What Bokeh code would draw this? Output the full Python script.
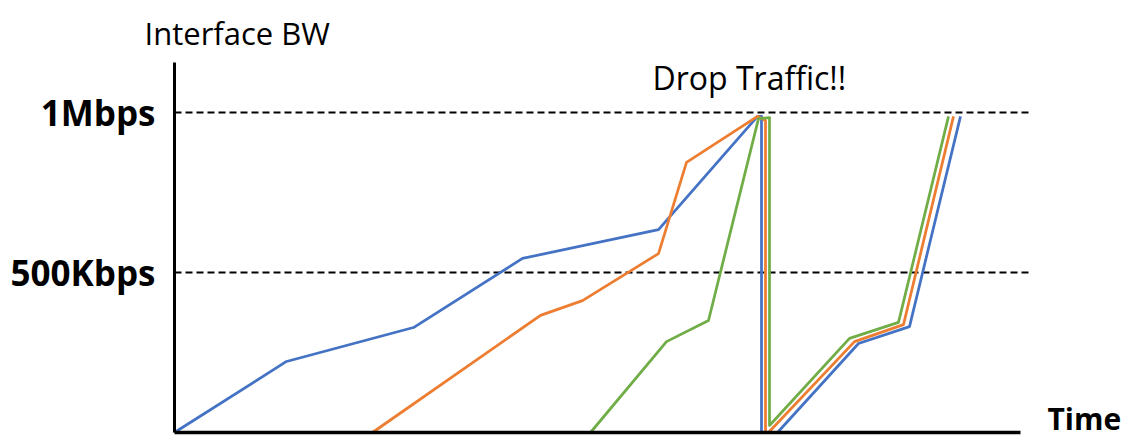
from bokeh.plotting import figure
from bokeh.models import Range1d
from bokeh.core.properties import value
from bokeh.embed import file_html
from bokeh.resources import INLINE

# ---- data (x: time units, y: Kbps) ----
blue_t = [0, 112, 239, 348, 484, 583, 587, 587, 603, 684, 735, 786]
blue_bw = [0, 222, 328, 544, 634, 988, 988, 0, 0, 278, 331, 988]

orange_t = [198, 366, 408, 484, 512, 583, 591, 591, 594, 680, 729, 779]
orange_bw = [0, 366, 412, 559, 844, 988, 975, 0, 0, 284, 337, 988]

green_t = [416, 492, 534, 584, 595, 595, 675, 724, 774]
green_bw = [0, 284, 350, 981, 984, 22, 294, 344, 988]

tick_values = [500, 1000]
tick_labels = ["500Kbps", "1Mbps"]

time_end = 846      # end of the time axis
dash_end = 856      # end of the dashed reference lines
bw_top = 1156       # top of the bandwidth axis

p = figure(width=1133, height=441, output_backend="svg", toolbar_location=None,
           x_range=Range1d(-174, 959), y_range=Range1d(-28.125, 1350),
           x_axis_location=None, y_axis_location=None, min_border=0,
           background_fill_color="white", border_fill_color="white")
p.outline_line_color = None
p.xgrid.visible = False
p.ygrid.visible = False

# dashed reference lines
for tv in tick_values:
    p.line([0, dash_end], [tv, tv], line_color="black", line_width=2, line_dash="7 4")

# series
p.line(blue_t, blue_bw, line_color="#4472C4", line_width=2.75, line_join="round")
p.line(orange_t, orange_bw, line_color="#ED7D31", line_width=2.75, line_join="round")
p.line(green_t, green_bw, line_color="#70AD47", line_width=2.75, line_join="round")

# axes
p.line([0, 0], [0, bw_top], line_color="black", line_width=3)
p.line([0, time_end], [0, 0], line_color="black", line_width=3.5)

# tick labels
p.text(x=[-19] * len(tick_values), y=tick_values, text=tick_labels,
       text_font=value("Open Sans"), text_font_size=value("35px"),
       text_font_style="bold", text_align="right", text_baseline="middle",
       text_color="black")

# other texts
p.text(x=[-30], y=[1247], text=["Interface BW"], text_font=value("Open Sans"),
       text_font_size=value("31px"), text_align="left", text_baseline="alphabetic",
       text_color="black")
p.text(x=[478], y=[1109], text=["Drop Traffic!!"], text_font=value("Open Sans"),
       text_font_size=value("32px"), text_align="left", text_baseline="alphabetic",
       text_color="black")
p.text(x=[873], y=[44], text=["Time"], text_font=value("Open Sans"),
       text_font_size=value("30px"), text_font_style="bold", text_align="left",
       text_baseline="alphabetic", text_color="black")

open("out.html", "w").write(file_html(p, INLINE))
